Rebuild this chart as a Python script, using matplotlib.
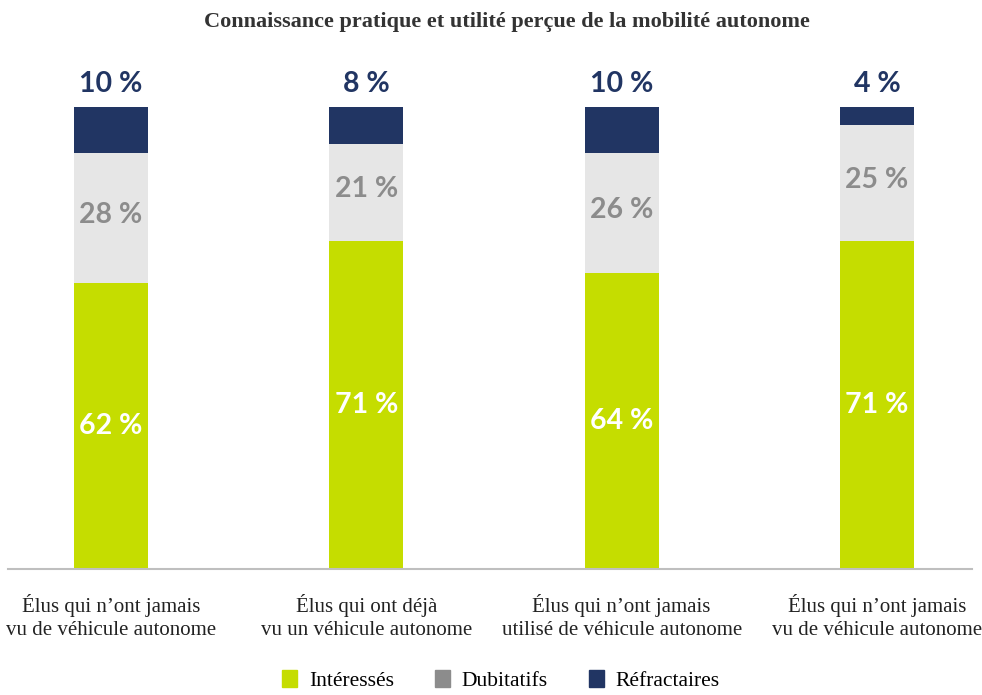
import matplotlib.pyplot as plt
from matplotlib.patches import Patch
import numpy as np

categories = ["Élus qui n’ont jamais\nvu de véhicule autonome",
              "Élus qui ont déjà\nvu un véhicule autonome",
              "Élus qui n’ont jamais\nutilisé de véhicule autonome",
              "Élus qui n’ont jamais\nvu de véhicule autonome"]
interesses = [62, 71, 64, 71]
dubitatifs = [28, 21, 26, 25]
refractaires = [10, 8, 10, 4]
series_names = ["Intéressés", "Dubitatifs", "Réfractaires"]

green = "#C5DD00"
light_grey = "#E6E6E6"
mid_grey = "#8C8C8C"
navy = "#213563"

fig = plt.figure(figsize=(9.82, 6.95), dpi=100)
ax = fig.add_axes([8 / 982, 126 / 695, 964 / 982, 462 / 695])

x = np.arange(len(categories))
w = 0.29
inter = np.array(interesses)
dub = np.array(dubitatifs)
ref = np.array(refractaires)

ax.bar(x, inter, w, color=green)
ax.bar(x, dub, w, bottom=inter, color=light_grey)
ax.bar(x, ref, w, bottom=inter + dub, color=navy)

num_font = dict(family="Lato", weight="bold", fontsize=20.5)
for i in range(len(x)):
    ax.text(x[i], inter[i] / 2, f"{inter[i]} %", ha="center", va="center",
            color="white", **num_font)
    ax.text(x[i], inter[i] + dub[i] / 2 + 0.7, f"{dub[i]} %", ha="center",
            va="center", color=mid_grey, **num_font)
    ax.text(x[i], inter[i] + dub[i] + ref[i] + 2.2, f"{ref[i]} %", ha="center",
            va="bottom", color=navy, **num_font)

ax.set_xlim(-0.403, 3.372)
ax.set_ylim(0, 100)
for s in ["top", "right", "left"]:
    ax.spines[s].set_visible(False)
ax.spines["bottom"].set_color("#BFBFBF")
ax.spines["bottom"].set_linewidth(1.5)
ax.set_yticks([])
ax.set_xticks(x)
ax.set_xticklabels(categories, family="Liberation Serif", fontsize=15,
                   color="#222222", linespacing=1.3)
ax.tick_params(axis="x", length=0, pad=18)

fig.text(507 / 982, 1 - 22 / 695, "Connaissance pratique et utilité perçue de la mobilité autonome",
         ha="center", va="center", family="Liberation Serif", weight="bold",
         fontsize=16, color="#333333")

handles = [Patch(color=green), Patch(color=mid_grey), Patch(color=navy)]
fig.legend(handles, series_names, loc="center", bbox_to_anchor=(0.51, 0.021),
           ncol=3, frameon=False, prop=dict(family="Liberation Serif", size=15.5),
           handlelength=0.7, handleheight=0.8, columnspacing=1.9, handletextpad=0.55)

fig.savefig("out.png", dpi=100)
